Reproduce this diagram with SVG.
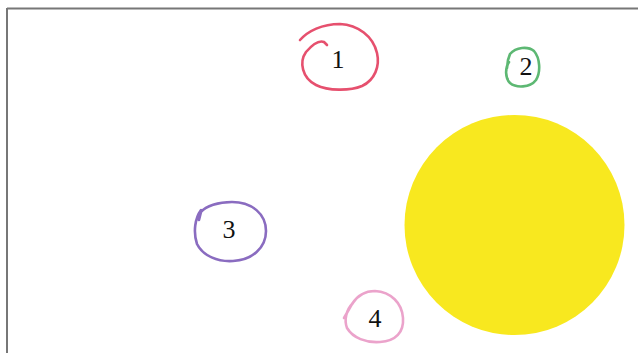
<svg xmlns="http://www.w3.org/2000/svg" width="638" height="353" viewBox="0 0 638 353">
<style>
.loop{fill:none;stroke-width:2.6;stroke-linecap:round;stroke-linejoin:round}
.num{font-family:"Liberation Serif","Times New Roman",serif;font-size:26px;fill:#111;text-anchor:middle}
</style>
<rect width="638" height="353" fill="#fff"/>
<g id="frame" stroke="#777" stroke-width="2" fill="none">
<line x1="7" y1="8.5" x2="638" y2="8.5"/>
<line x1="7" y1="8" x2="7" y2="353"/>
</g>
<g id="sun">
<circle cx="514.5" cy="225" r="110" fill="#F8E81F"/>
</g>
<g id="node1">
<path class="loop" stroke="#E6506E" d="M327 45 L324 42 C319 40 312 45 306 52 C299 62 302 78 316 85 C328 91 350 91 362 86 C375 80 380 66 377 53 C373 36 358 25 340 24 C322 24 308 31 300 40"/>
<text class="num" x="338" y="68">1</text>
</g>
<g id="node2">
<path class="loop" stroke="#5DB873" d="M509 62 C505 68 505 78 510 83 C516 88 530 88 536 80 C541 72 540 58 534 51 C528 46 516 47 510 54 L508 60 L507 68"/>
<text class="num" x="526" y="75">2</text>
</g>
<g id="node3">
<path class="loop" stroke="#8A6CC0" d="M201 210 C195 218 193 232 197 244 C203 256 218 262 233 261 C252 260 266 248 266 231 C266 214 252 202 232 202 C218 202 206 206 201 212 L199 220"/>
<text class="num" x="229" y="238">3</text>
</g>
<g id="node4">
<path class="loop" stroke="#EBA3CB" d="M353 303 C346 310 344 320 347 328 C353 338 366 343 380 342 C396 341 404 332 403 318 C402 303 391 292 375 291 C365 291 357 296 352 304 L344 318"/>
<text class="num" x="375" y="327">4</text>
</g>
</svg>
